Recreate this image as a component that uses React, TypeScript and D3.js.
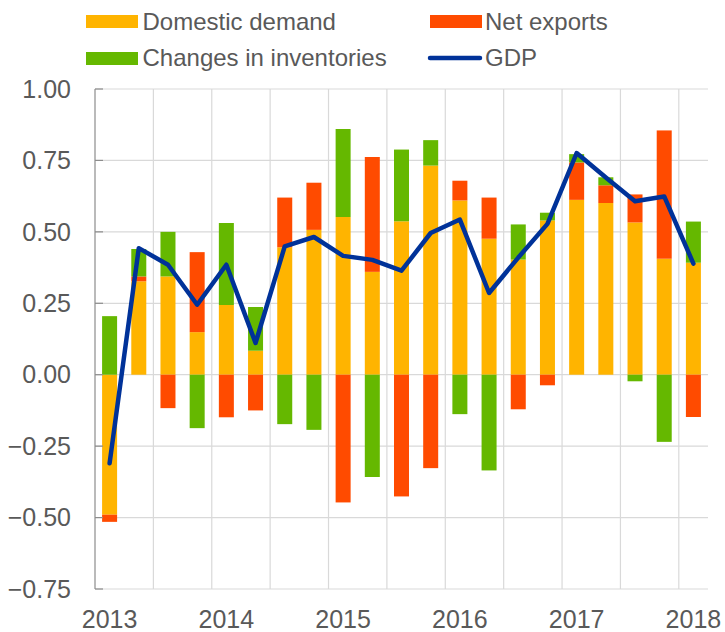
import React from "react";
import * as d3 from "d3";

const quarters = [
  "2013Q1","2013Q2","2013Q3","2013Q4",
  "2014Q1","2014Q2","2014Q3","2014Q4",
  "2015Q1","2015Q2","2015Q3","2015Q4",
  "2016Q1","2016Q2","2016Q3","2016Q4",
  "2017Q1","2017Q2","2017Q3","2017Q4",
  "2018Q1",
];
const domesticDemand = [-0.49, 0.327, 0.344, 0.149, 0.244, 0.084, 0.446, 0.507, 0.552, 0.36, 0.537, 0.732, 0.61, 0.476, 0.403, 0.54, 0.612, 0.601, 0.533, 0.406, 0.392];
const netExports = [-0.025, 0.017, -0.117, 0.28, -0.149, -0.125, 0.174, 0.165, -0.447, 0.402, -0.426, -0.327, 0.069, 0.144, -0.121, -0.037, 0.131, 0.062, 0.098, 0.449, -0.148];
const inventories = [0.205, 0.096, 0.156, -0.187, 0.287, 0.153, -0.173, -0.193, 0.308, -0.358, 0.251, 0.089, -0.138, -0.335, 0.123, 0.027, 0.029, 0.028, -0.023, -0.235, 0.144];
const gdp = [-0.31, 0.443, 0.385, 0.245, 0.385, 0.111, 0.449, 0.482, 0.416, 0.402, 0.364, 0.496, 0.543, 0.286, 0.41, 0.528, 0.776, 0.69, 0.607, 0.624, 0.389];
const yTicks = [-0.75, -0.5, -0.25, 0, 0.25, 0.5, 0.75, 1.0];
const yearLabels = ["2013", "2014", "2015", "2016", "2017", "2018"];

const seriesKeys = ["domestic", "net", "inv"];
const seriesNames = ["Domestic demand", "Net exports", "Changes in inventories"];
const colors: Record<string, string> = { domestic: "#FFB400", net: "#FF4B00", inv: "#65B800" };
const gdpColor = "#003299";
const textColor = "#595959";
const gridColor = "#d9d9d9";
const font = "'Liberation Sans', Arial, sans-serif";

export default function App() {
  const left = 95, right = 708, top = 89, bottom = 589;
  const x = d3.scaleBand<string>().domain(quarters).range([left, right]).paddingInner(0.486).paddingOuter(0.243);
  const y = d3.scaleLinear().domain([-0.75, 1]).range([bottom, top]);
  const table = quarters.map((q, i) => ({ q, domestic: domesticDemand[i], net: netExports[i], inv: inventories[i] }));
  const stacked = d3.stack<any>().keys(seriesKeys).offset(d3.stackOffsetDiverging)(table);
  const step = x.step();
  const vLines = d3.range(1, 11).map((k) => left + k * 2 * step);
  const cx = (q: string) => (x(q) as number) + x.bandwidth() / 2;
  const line = d3.line<number>().x((_, i) => cx(quarters[i])).y((d) => y(d));

  return (
    <svg width={725} height={632} style={{ position: "absolute", left: 0, top: 0, background: "#fff" }} fontFamily={font}>
      {/* grid */}
      {yTicks.map((t) => (
        <line key={"h" + t} x1={left} x2={right} y1={y(t)} y2={y(t)} stroke={gridColor} strokeWidth={1.2} />
      ))}
      {vLines.map((v, i) => (
        <line key={"v" + i} x1={v} x2={v} y1={top} y2={bottom} stroke={gridColor} strokeWidth={1.2} />
      ))}
      {/* bars */}
      {stacked.map((s: any) => (
        <g key={s.key} fill={colors[s.key]}>
          {s.map((d: any, i: number) => (
            <rect key={i} x={x(quarters[i])} width={x.bandwidth()} y={y(Math.max(d[0], d[1]))} height={Math.abs(y(d[0]) - y(d[1]))} />
          ))}
        </g>
      ))}
      {/* axis */}
      <line x1={left} x2={left} y1={top} y2={bottom} stroke="#8c8c8c" strokeWidth={1.2} />
      {yTicks.map((t) => (
        <line key={"t" + t} x1={left} x2={left + 8} y1={y(t)} y2={y(t)} stroke="#8c8c8c" strokeWidth={1.2} />
      ))}
      {yTicks.map((t) => (
        <text key={"yl" + t} x={71} y={y(t)} dy="0.35em" textAnchor="end" fontSize={25} fill={textColor}>
          {d3.format(".2f")(t)}
        </text>
      ))}
      {yearLabels.map((yr, i) => (
        <text key={yr} x={cx(quarters[i * 4])} y={628} textAnchor="middle" fontSize={25} fill={textColor}>
          {yr}
        </text>
      ))}
      {/* GDP line */}
      <path d={line(gdp) as string} fill="none" stroke={gdpColor} strokeWidth={4.5} strokeLinejoin="round" strokeLinecap="round" />
      {/* legend */}
      <rect x={86} y={15} width={52} height={13} fill={colors.domestic} />
      <text x={142.5} y={30} fontSize={24} fill={textColor}>{seriesNames[0]}</text>
      <rect x={430} y={15} width={52} height={13} fill={colors.net} />
      <text x={485} y={30} fontSize={24} fill={textColor}>{seriesNames[1]}</text>
      <rect x={86} y={52} width={52} height={13} fill={colors.inv} />
      <text x={142.5} y={65.5} fontSize={24} fill={textColor}>{seriesNames[2]}</text>
      <line x1={430} x2={480} y1={58} y2={58} stroke={gdpColor} strokeWidth={4.5} strokeLinecap="round" />
      <text x={485} y={65.5} fontSize={24} fill={textColor}>GDP</text>
    </svg>
  );
}
